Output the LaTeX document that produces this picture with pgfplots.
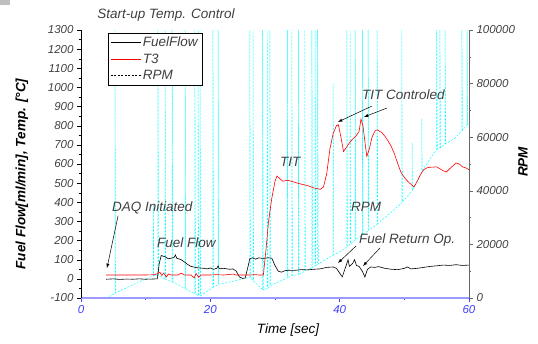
\documentclass[border=0pt]{standalone}
\usepackage{fontspec}
\setmainfont{Liberation Sans}
\usepackage{pgfplots}
\pgfplotsset{compat=1.18}
\definecolor{tickgray}{HTML}{404040}
\definecolor{xblue}{HTML}{3F3FFF}
\definecolor{xline}{HTML}{9999FF}
\definecolor{rpmcyan}{HTML}{00FFFF}
\definecolor{t3red}{HTML}{FF0000}
\newcommand{\tickfont}{\itshape\fontsize{11.5}{13}\selectfont}
\newcommand{\labfont}{\itshape\fontsize{13.5}{15}\selectfont}
\begin{document}
\begin{tikzpicture}[x=1pt,y=1pt]
\path[use as bounding box] (0,0) rectangle (538,344);
\fill[gray!50] (0,339) rectangle (10,344);
% RPM axis (right)
\begin{axis}[at={(81pt,46pt)}, anchor=south west, scale only axis,
  width=388pt, height=268pt, xmin=0, xmax=60, ymin=0, ymax=100000,
  axis x line=none, axis y line*=right,
  ytick={0,20000,40000,60000,80000,100000}, minor y tick num=1, scaled y ticks=false,
  yticklabel style={font=\tickfont, text=tickgray, /pgf/number format/fixed, /pgf/number format/precision=0, /pgf/number format/1000 sep={}},
  /pgf/number format/assume math mode=true,
  tick align=outside, y axis line style={draw=gray!80!black}, ytick style={draw=gray!80!black},
  major tick length=4pt, minor tick length=2.5pt, clip=false]
\addplot[rpmcyan, dash pattern=on 2pt off 1.5pt, line width=0.45pt] coordinates {
(3.9,0) (5.26,1700) (5.26,100000) (5.35,1800) (7,3800) (9,6000) (10.7,7800)
(11.2,8200) (11.2,35000) (11.25,8300)
(11.9,8500) (11.9,100000) (12.0,8400)
(13.0,7000) (13.0,100000) (13.1,6900)
(14.1,6000) (14.1,100000) (14.2,5900)
(16.1,3500) (16.1,100000) (16.2,3400)
(17.6,1500) (17.6,100000) (17.7,1400)
(18.1,800) (18.1,100000) (18.2,750)
(18.4,700) (18.4,100000) (18.5,800)
(20.4,4000) (20.4,100000) (20.5,4100)
(21.2,5000) (21.2,100000) (21.3,5100)
(24,6500)
(26.1,7800) (26.1,100000) (26.2,7600)
(26.6,6500) (26.6,100000) (26.7,6300)
(28.1,3000) (28.1,100000) (28.2,3100)
(28.8,3500) (28.8,100000) (28.9,3700)
(29.2,4500) (29.2,100000) (29.3,4600)
(31.9,7500) (31.9,100000) (32.0,7600)
(32.6,8300) (32.6,100000) (32.7,8400)
(33.6,8600) (33.6,100000) (33.7,8800)
(34.6,10000) (34.6,100000) (34.7,10100)
(35.7,11300) (35.7,100000) (35.8,11400)
(36.2,12000) (36.2,100000) (36.3,12100)
(36.6,12600) (36.6,100000) (36.7,12700)
(39.0,16000) (39.0,80000) (39.05,16100)
(40,17200)
(41.1,19000) (41.1,100000) (41.2,19200)
(41.6,20000) (41.6,100000) (41.7,20200)
(42.4,21500) (42.4,100000) (42.5,21700)
(43.5,23500) (43.5,100000) (43.6,23700)
(44.4,25000) (44.4,100000) (44.5,25200)
(45.8,27500) (45.8,100000) (45.9,27700)
(47,30000)
(49.6,35500) (49.6,100000) (49.7,35800)
(51.2,40000) (51.2,58000) (51.25,40200)
(52.7,47000) (52.7,67000) (52.75,47300)
(54,52000)
(55.0,55500) (55.0,100000) (55.1,55600)
(55.5,56000) (55.5,100000) (55.6,56100)
(56.3,57500) (56.3,100000) (56.4,57600)
(57.8,59500)
(58.9,62500) (58.9,100000) (59.0,62700)
(59.7,64500) (59.7,100000) (59.8,64600)
(60,65000)
};
\end{axis}
% Main axis (left)
\begin{axis}[at={(81pt,46pt)}, anchor=south west, scale only axis,
  width=388pt, height=268pt, xmin=0, xmax=60, ymin=-100, ymax=1300,
  axis x line*=bottom, axis y line*=left,
  xtick={0,20,40,60}, minor x tick num=1,
  ytick={-100,0,...,1300}, minor y tick num=1,
  xticklabel style={font=\tickfont, text=xblue},
  yticklabel style={font=\tickfont, text=tickgray, /pgf/number format/fixed, /pgf/number format/1000 sep={}},
  /pgf/number format/assume math mode=true,
  tick align=outside, major tick length=4pt, minor tick length=2.5pt,
  x axis line style={draw=xline, line width=1.6pt},
  y axis line style={draw=black},
  xtick style={draw=xblue, line width=0.8pt},
  ytick style={draw=black},
  legend style={at={(0.07,0.989)}, anchor=north west, draw=black, fill=white,
    font=\labfont, inner sep=2pt, row sep=1.5pt},
  legend cell align=left,
  legend image code/.code={\draw[#1] (0pt,0pt) -- (30pt,0pt);},
  clip=false]
\addplot[black, line width=0.6pt] coordinates {
(3.9,-2) (5,0) (6,-3) (7,-1) (8,-2) (9,0) (10,-2) (11,-1) (11.8,0)
(12.1,80) (12.4,122) (13,115) (13.5,105) (14,108) (14.4,112) (14.6,125) (14.8,108)
(15.5,100) (16,88) (16.5,75) (17,65) (18,58) (19,55) (19.5,52) (20,57) (20.5,50)
(21,55) (21.2,68) (21.4,52) (22,55) (23,50) (23.5,52) (24,40) (24.5,10) (25,2)
(25.4,5) (25.8,60) (26.1,105) (26.5,110) (27,103) (27.5,110) (28,107) (28.5,108)
(29,110) (29.5,108) (30,70) (30.5,40) (31,35) (31.5,42) (32,45) (33,44) (34,48)
(35,47) (36,50) (37,52) (38,60) (39,62) (39.5,55) (40,30) (40.4,10) (40.7,40)
(41,70) (41.3,100) (41.5,65) (42,80) (42.3,100) (42.6,70) (43,65) (43.5,40)
(43.9,10) (44.3,50) (44.8,62) (45.5,60) (46,64) (47,55) (48,50) (49,48) (50,55)
(50.5,62) (51,52) (52,55) (53,60) (54,65) (55,68) (56,72) (57,70) (58,74) (59,70) (60,72)
};
\addlegendentry{\textcolor{tickgray}{FuelFlow}}
\addplot[draw=t3red, line width=0.6pt] coordinates {
(3.9,20) (10,20) (11.5,22) (12.2,35) (12.5,18) (12.8,30) (13.2,10) (13.5,25)
(14,20) (15,20) (15.5,30) (16,20) (17,20) (17.5,5) (17.8,28) (18.2,8) (18.5,20)
(20,20) (21,22) (22,20) (23.5,25) (24,20) (26,20) (27,22) (27.5,20) (28.2,20)
(28.6,150) (29,300) (29.5,420) (30,510) (30.3,537) (30.7,525) (31.2,510) (32,515)
(33,505) (34,495) (35,488) (36,475) (37,468) (37.5,480) (38,550) (38.5,680)
(39,760) (39.5,800) (39.8,805) (40.2,740) (40.6,665) (41,685) (41.5,710) (42,730)
(42.5,745) (43,770) (43.3,835) (43.6,800) (44,690) (44.2,640) (44.6,680) (45,740)
(45.5,775) (45.8,778) (46.5,765) (47,745) (47.5,720) (48,690) (48.5,650) (49,600)
(49.5,555) (50,530) (50.5,510) (51,495) (51.5,480) (52,510) (52.5,545) (53,570)
(53.5,580) (54,583) (55,585) (55.5,575) (56,565) (56.5,558) (57,575) (57.5,590)
(58,605) (58.5,600) (59,585) (59.5,580) (60,570)
};
\addlegendentry{\textcolor{tickgray}{T3}}
\addlegendimage{black, dash pattern=on 2pt off 1.5pt, line width=0.5pt}
\addlegendentry{\textcolor{tickgray}{RPM}}
\end{axis}
% titles and labels
\node[font=\labfont, text=tickgray] at (166,329) {Start-up Temp. Control};
\node[font=\bfseries\labfont, rotate=90] at (22,170) {Fuel Flow[ml/min], Temp. [°C]};
\node[font=\bfseries\labfont, rotate=90] at (523,182) {RPM};
\node[font=\labfont] at (288,14) {Time [sec]};
% annotations
\node[font=\labfont, text=tickgray, anchor=west, inner sep=0pt] at (112,136) {DAQ Initiated};
\draw[-latex, line width=0.5pt] (118,128) -- (107,76);
\node[font=\labfont, text=tickgray, anchor=west, inner sep=0pt] at (157,101) {Fuel Flow};
\node[font=\labfont, text=tickgray, anchor=west, inner sep=0pt] at (280,182) {TIT};
\node[font=\labfont, text=tickgray, anchor=west, inner sep=0pt] at (362,249) {TIT Controled};
\draw[-latex, line width=0.5pt] (372,238) -- (338,222);
\draw[-latex, line width=0.5pt] (387,236) -- (364,227);
\node[font=\labfont, text=tickgray, anchor=west, inner sep=0pt] at (351,137) {RPM};
\node[font=\labfont, text=tickgray, anchor=west, inner sep=0pt] at (359,104) {Fuel Return Op.};
\draw[-latex, line width=0.5pt] (356,98) -- (338,81);
\draw[-latex, line width=0.5pt] (380,96) -- (363,78);
\end{tikzpicture}
\end{document}
